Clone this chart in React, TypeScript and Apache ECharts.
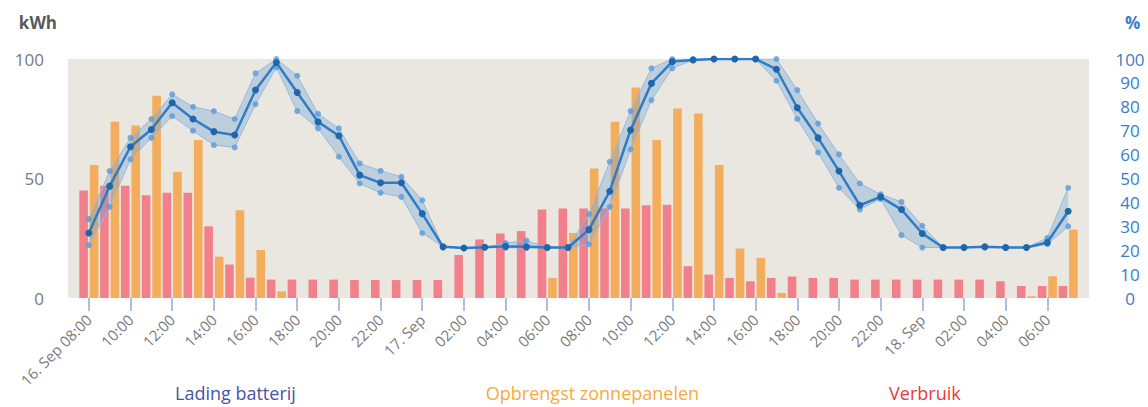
import React, { useEffect, useRef } from "react";
import * as echarts from "echarts";

// hour labels, 16 Sep 08:00 .. 18 Sep 07:00
const hourLabels = [
  "16. Sep 08:00", "09:00", "10:00", "11:00", "12:00", "13:00", "14:00", "15:00",
  "16:00", "17:00", "18:00", "19:00", "20:00", "21:00", "22:00", "23:00",
  "17. Sep", "01:00", "02:00", "03:00", "04:00", "05:00", "06:00", "07:00",
  "08:00", "09:00", "10:00", "11:00", "12:00", "13:00", "14:00", "15:00",
  "16:00", "17:00", "18:00", "19:00", "20:00", "21:00", "22:00", "23:00",
  "18. Sep", "01:00", "02:00", "03:00", "04:00", "05:00", "06:00", "07:00",
];

// Verbruik (kWh)
const verbruik = [
  45, 47, 47, 43, 44, 44, 30, 14, 8.5, 7.7, 7.7, 7.7, 7.7, 7.5, 7.5, 7.5,
  7.5, 7.5, 18, 24.5, 27, 28, 37, 37.5, 37.5, 37.5, 37.5, 38.8, 39, 13.3, 9.8, 8.4,
  7, 8.4, 9, 8.4, 8.4, 7.7, 7.7, 7.7, 7.7, 7.7, 7.7, 7.7, 7, 5, 5, 5,
];

// Opbrengst zonnepanelen (kWh)
const opbrengst = [
  55.6, 73.7, 72.2, 84.6, 52.8, 66.1, 17.3, 36.7, 20.1, 2.8, null, null, null, null, null, null,
  null, null, null, null, null, null, 8.4, 27.2, 54.2, 73.7, 88.1, 66.1, 79.3, 77.2, 55.6, 20.7,
  16.8, 2.1, null, null, null, null, null, null, null, null, null, null, null, 0.7, 9.1, 28.6,
];

// Lading batterij (%) average, minimum and maximum
const ladingGem = [
  27.2, 46.8, 63.3, 70.5, 81.7, 74.9, 69.6, 68.2, 87, 98.5, 86, 73.7, 67.9, 51.4, 48.2, 48.2,
  35.3, 21.4, 20.9, 21.2, 21.6, 21.4, 21.1, 21.1, 28.6, 44.7, 70.3, 89.8, 98.9, 99.6, 100, 100,
  100, 95.7, 79.6, 67, 53.1, 38.8, 42.3, 37, 27, 21.1, 21.1, 21.4, 21.1, 21.1, 23.2, 36.3,
];
const ladingMin = [
  22.1, 38.1, 58, 67, 76.1, 70, 64, 63, 81.1, 96.5, 78.2, 71, 59.1, 47.9, 44, 42.3,
  27.2, 21.4, 20.9, 21.2, 21, 21, 21.1, 21.1, 22.5, 38.1, 62.2, 82.8, 96.1, 99.6, 100, 100,
  100, 90.9, 74.9, 60.9, 46.1, 37, 41.5, 26.3, 21.1, 21.1, 21.1, 21.4, 21.1, 21.1, 22.5, 30,
];
const ladingMax = [
  33, 53.1, 67, 74.9, 85.2, 80, 78.2, 74.9, 94, 100, 93, 77, 71, 56.3, 53.2, 50.7,
  40.9, 21.4, 20.9, 21.2, 23, 24, 21.1, 21.1, 35.1, 57, 78.2, 96.1, 100, 100, 100, 100,
  100, 100, 87, 73, 60.1, 47.9, 43.4, 40.2, 30.2, 21.1, 21.1, 21.4, 21.1, 21.1, 25.1, 46.1,
];

const kwhTicks = [0, 50, 100];
const pctTicks = [0, 100, 10];

const FONT = "Open Sans";

const pad = (arr: (number | null)[]) => [null, ...arr, null];

export default function App() {
  const ref = useRef<HTMLDivElement>(null);

  useEffect(() => {
    if (!ref.current) return;
    const chart = echarts.init(ref.current, undefined, { renderer: "svg" });
    const cats = ["pre", ...hourLabels.map((_, i) => "h" + i), "post"];
    const bandRange = ladingMax.map((v, i) => +(v - ladingMin[i]).toFixed(2));
    const tickShow = (index: number) => index % 2 === 1 && index <= hourLabels.length;

    chart.setOption({
      animation: false,
      textStyle: { fontFamily: FONT },
      grid: {
        left: 68,
        right: 59,
        top: 59,
        bottom: 109,
        show: true,
        backgroundColor: "#e9e7df",
        borderWidth: 0,
        containLabel: false,
      },
      legend: {
        data: [
          { name: "Lading batterij", textStyle: { color: "#4953a6" } },
          { name: "Opbrengst zonnepanelen", textStyle: { color: "#f8aa3c" } },
          { name: "Verbruik", textStyle: { color: "#ea3b3b" } },
        ],
        icon: "none",
        itemWidth: 0,
        itemHeight: 0,
        itemGap: 185,
        left: 165,
        top: 379,
        selectedMode: false,
        textStyle: { fontFamily: FONT, fontSize: 18 },
      },
      xAxis: {
        type: "category",
        data: cats,
        boundaryGap: false,
        axisLine: { show: false },
        axisTick: {
          show: true,
          interval: (index: number) => tickShow(index),
          length: 13,
          lineStyle: { color: "#aebfe6", width: 2 },
        },
        axisLabel: {
          interval: (index: number) => tickShow(index),
          rotate: 45,
          margin: 19,
          color: "#7a7a7a",
          fontSize: 15,
          fontFamily: FONT,
          formatter: (_v: string, index: number) => hourLabels[index - 1] ?? "",
        },
        splitLine: { show: false },
      },
      yAxis: [
        {
          type: "value",
          min: kwhTicks[0],
          max: kwhTicks[2],
          interval: kwhTicks[1],
          name: "kWh",
          nameLocation: "end",
          nameGap: 28,
          nameTextStyle: {
            color: "#5a5a5a",
            fontWeight: "bold",
            fontSize: 17,
            align: "right",
            padding: [0, 11, 0, 0],
            fontFamily: FONT,
          },
          axisLine: { show: false },
          axisTick: { show: false },
          splitLine: { show: false },
          axisLabel: { color: "#7a7a7a", fontSize: 17, margin: 24, fontFamily: FONT },
        },
        {
          type: "value",
          min: pctTicks[0],
          max: pctTicks[1],
          interval: pctTicks[2],
          name: "%",
          nameLocation: "end",
          nameGap: 28,
          nameTextStyle: {
            color: "#3b7cc6",
            fontWeight: "bold",
            fontSize: 17,
            align: "left",
            padding: [0, 0, 0, 36],
            fontFamily: FONT,
          },
          axisLine: { show: false },
          axisTick: { show: false },
          splitLine: { show: false },
          axisLabel: {
            color: "#3b7cc6",
            fontSize: 17,
            margin: 41,
            align: "center",
            fontFamily: FONT,
          },
        },
      ],
      series: [
        {
          name: "Verbruik",
          type: "bar",
          yAxisIndex: 0,
          data: pad(verbruik),
          barWidth: 8.6,
          barGap: "22%",
          itemStyle: { color: "#f1808a" },
        },
        {
          name: "Opbrengst zonnepanelen",
          type: "bar",
          yAxisIndex: 0,
          data: pad(opbrengst),
          barWidth: 8.6,
          barGap: "22%",
          itemStyle: { color: "#f4ad5c" },
        },
        {
          name: "bandBase",
          type: "line",
          yAxisIndex: 1,
          stack: "band",
          data: pad(ladingMin),
          symbol: "none",
          lineStyle: { color: "#94badf", width: 1 },
          z: 3,
        },
        {
          name: "bandRange",
          type: "line",
          yAxisIndex: 1,
          stack: "band",
          data: pad(bandRange),
          symbol: "none",
          lineStyle: { color: "#94badf", width: 1 },
          areaStyle: { color: "rgba(110,162,218,0.5)" },
          z: 3,
        },
        {
          name: "bandMin",
          type: "scatter",
          yAxisIndex: 1,
          data: pad(ladingMin),
          symbolSize: 6,
          itemStyle: { color: "#5b9ad8" },
          z: 4,
        },
        {
          name: "bandMax",
          type: "scatter",
          yAxisIndex: 1,
          data: pad(ladingMax),
          symbolSize: 6,
          itemStyle: { color: "#5b9ad8" },
          z: 4,
        },
        {
          name: "Lading batterij",
          type: "line",
          yAxisIndex: 1,
          data: pad(ladingGem),
          symbol: "circle",
          symbolSize: 7,
          lineStyle: { color: "#2e7cc6", width: 2.5 },
          itemStyle: { color: "#1f66ad" },
          z: 5,
        },
      ],
    });
    return () => chart.dispose();
  }, []);

  return <div ref={ref} style={{ width: 1148, height: 407, position: "absolute", left: 0, top: 0 }} />;
}
